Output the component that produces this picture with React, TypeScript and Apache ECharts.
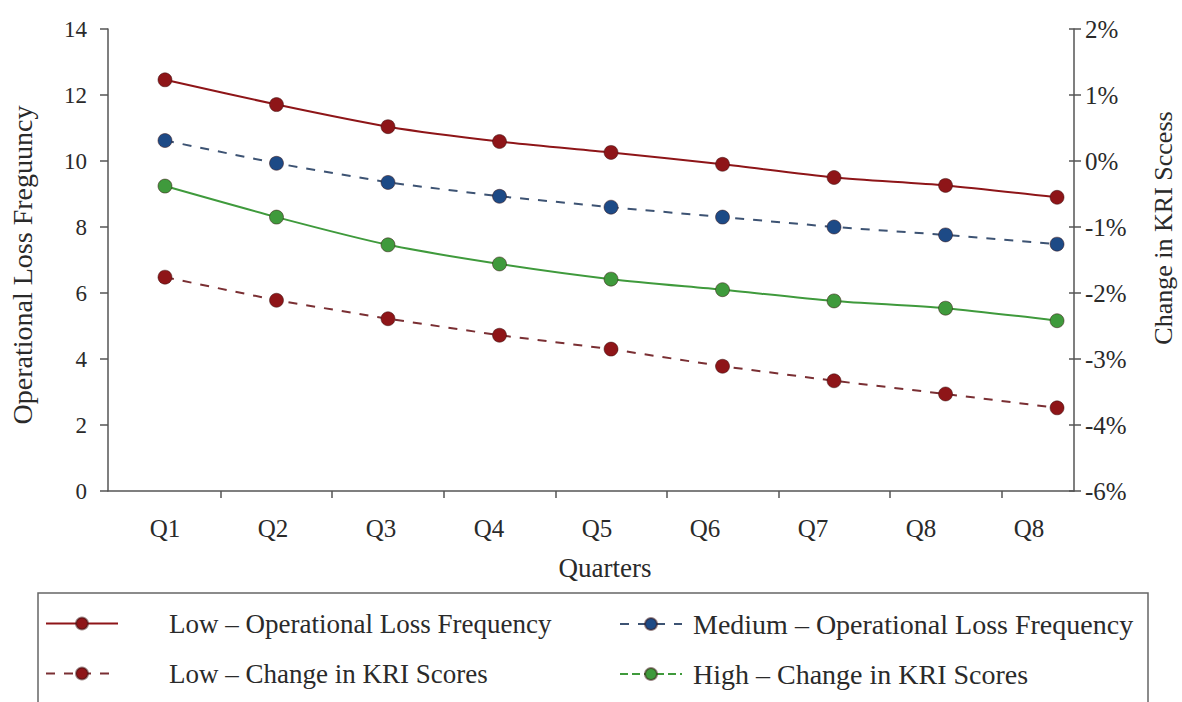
import React, { useEffect, useRef } from "react";
import * as echarts from "echarts";

const categories = ["Q1", "Q2", "Q3", "Q4", "Q5", "Q6", "Q7", "Q8", "Q8"];
const lowLossFreq = [12.46, 11.71, 11.04, 10.59, 10.26, 9.9, 9.5, 9.26, 8.9];
const mediumLossFreq = [10.62, 9.93, 9.35, 8.93, 8.6, 8.3, 8.0, 7.76, 7.48];
const lowKriChange = [-1.76, -2.11, -2.39, -2.64, -2.85, -3.11, -3.33, -3.53, -3.74];
const highKriChange = [-0.38, -0.85, -1.27, -1.56, -1.79, -1.95, -2.12, -2.23, -2.42];
const rightTickLabels = ["-6%", "-4%", "-3%", "-2%", "-1%", "0%", "1%", "2%"];

const FONT = "Liberation Serif";
const RED = "#8e1518";
const BLUE = "#1d4a86";
const GREEN = "#3f9a3c";

const pairs = (arr: number[]) => arr.map((v, i) => [i, v]);
const midTicks = categories.slice(1).map((_, i) => i + 0.5);

export default function App() {
  const ref = useRef<HTMLDivElement>(null);
  useEffect(() => {
    const chart = echarts.init(ref.current!, null, { renderer: "svg" });
    const axisLine = { show: true, onZero: false, lineStyle: { color: "#555", width: 1.5 } };
    const labelStyle = { color: "#2a2a2a", fontFamily: FONT, fontSize: 23 };
    const tick = (len: number) => ({ show: true, length: len, lineStyle: { color: "#555", width: 1.5 } });
    const marker = (c: string) => ({ color: c, borderColor: "rgba(60,20,20,0.5)", borderWidth: 1 });
    chart.setOption({
      animation: false,
      backgroundColor: "#ffffff",
      grid: [
        { left: 108, right: 108, top: 29, bottom: 211, containLabel: false, outerBoundsMode: "none" },
        { left: 111, right: 99, top: 29, bottom: 211, containLabel: false, outerBoundsMode: "none" },
      ],
      xAxis: [
        {
          type: "value",
          gridIndex: 0,
          min: -0.511,
          max: 8.152,
          axisLine,
          axisTick: { ...tick(7), customValues: midTicks },
          axisLabel: { show: false },
          splitLine: { show: false },
        },
        {
          type: "category",
          gridIndex: 1,
          data: categories,
          boundaryGap: true,
          axisLine: { show: false, onZero: false },
          axisTick: { show: false },
          axisLabel: { ...labelStyle, margin: 25, fontSize: 25 },
          name: "Quarters",
          nameLocation: "middle",
          nameGap: 63,
          nameTextStyle: { ...labelStyle, fontSize: 27, padding: [0, 0, 0, 16] },
        },
      ],
      yAxis: [
        {
          type: "value",
          gridIndex: 0,
          min: 0,
          max: 14,
          interval: 2,
          position: "left",
          axisLine,
          axisTick: tick(8),
          splitLine: { show: false },
          axisLabel: { ...labelStyle, margin: 21 },
          name: "Operational Loss Freguuncy",
          nameLocation: "middle",
          nameRotate: 90,
          nameGap: 72,
          nameTextStyle: { ...labelStyle, fontSize: 28, padding: [0, 10, 0, 0] },
        },
        {
          type: "value",
          gridIndex: 0,
          min: -5,
          max: 2,
          interval: 1,
          position: "right",
          axisLine,
          axisTick: tick(7),
          splitLine: { show: false },
          axisLabel: {
            ...labelStyle,
            fontSize: 25,
            margin: 11,
            formatter: (v: number) => rightTickLabels[Math.round(v) + 5],
          },
          name: "Change in KRI Sccess",
          nameLocation: "middle",
          nameRotate: 90,
          nameGap: 76,
          nameTextStyle: { ...labelStyle, fontSize: 26, padding: [0, 0, 0, 64] },
        },
        {
          type: "value",
          gridIndex: 1,
          show: false,
          min: 0,
          max: 14,
        },
        {
          type: "value",
          gridIndex: 0,
          min: -5,
          max: 2,
          interval: 1,
          position: "right",
          axisLine: { show: false, onZero: false },
          axisTick: { show: true, inside: true, length: 5, lineStyle: { color: "#555", width: 1.5 } },
          axisLabel: { show: false },
          splitLine: { show: false },
        },
      ],
      legend: [
        {
          orient: "vertical",
          left: 40,
          top: 605,
          itemWidth: 72,
          itemHeight: 15,
          itemGap: 23,
          textStyle: { ...labelStyle, fontSize: 27, padding: [0, 0, 0, 46] },
          data: ["Low – Operational Loss Frequency", "Low – Change in KRI Scores"],
        },
        {
          orient: "vertical",
          left: 614,
          top: 605,
          itemWidth: 62,
          itemHeight: 15,
          itemGap: 22,
          textStyle: { ...labelStyle, fontSize: 28, padding: [0, 0, 0, 6] },
          data: [
            "Medium – Operational Loss Frequency",
            { name: "High – Change in KRI Scores", lineStyle: { type: "dashed" } },
          ],
        },
      ],
      graphic: [
        {
          type: "rect",
          shape: { x: 38, y: 593, width: 1110, height: 130 },
          style: { fill: "none", stroke: "#666", lineWidth: 1.5 },
          silent: true,
        },
      ],
      series: [
        {
          name: "Low – Operational Loss Frequency",
          type: "line",
          xAxisIndex: 0,
          yAxisIndex: 0,
          data: pairs(lowLossFreq),
          smooth: 0.25,
          symbol: "circle",
          symbolSize: 14,
          lineStyle: { color: RED, width: 2 },
          itemStyle: marker(RED),
        },
        {
          name: "Medium – Operational Loss Frequency",
          type: "line",
          xAxisIndex: 0,
          yAxisIndex: 0,
          data: pairs(mediumLossFreq),
          symbol: "circle",
          symbolSize: 14,
          lineStyle: { color: "#3d5373", width: 2, type: [9, 9] },
          itemStyle: marker(BLUE),
        },
        {
          name: "High – Change in KRI Scores",
          type: "line",
          xAxisIndex: 0,
          yAxisIndex: 1,
          data: pairs(highKriChange),
          smooth: 0.25,
          symbol: "circle",
          symbolSize: 14,
          lineStyle: { color: GREEN, width: 2 },
          itemStyle: marker(GREEN),
        },
        {
          name: "Low – Change in KRI Scores",
          type: "line",
          xAxisIndex: 0,
          yAxisIndex: 1,
          data: pairs(lowKriChange),
          symbol: "circle",
          symbolSize: 14,
          lineStyle: { color: "#7a2f33", width: 2, type: [9, 9] },
          itemStyle: marker(RED),
        },
      ],
    });
    return () => chart.dispose();
  }, []);
  return (
    <div
      ref={ref}
      style={{ position: "absolute", left: 0, top: 0, width: 1182, height: 702 }}
    />
  );
}
